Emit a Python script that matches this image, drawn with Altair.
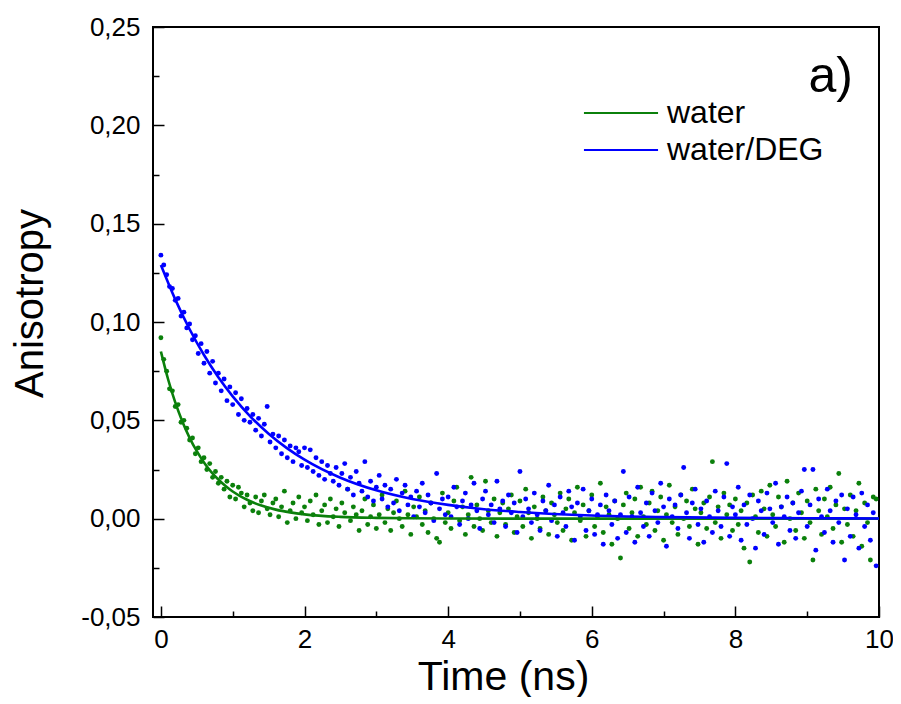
import altair as alt
import pandas as pd

# ---------------- data ----------------
series_names = ["water", "water/DEG"]
series_colors = ["#0b800b", "#0000FF"]
panel_label = ["a)"]

time_step_ns = 0.04  # sampling interval of the measured points

water = [0.092, 0.081, 0.075, 0.066, 0.065, 0.057, 0.058, 0.049, 0.050, 0.046,
         0.040, 0.041, 0.033, 0.036, 0.029, 0.031, 0.025, 0.028, 0.021, 0.024,
         0.018, 0.021, 0.015, 0.019, 0.011, 0.017, 0.010, 0.016, 0.013, 0.006,
         0.012, 0.008, 0.004, 0.011, 0.003, 0.009, 0.012, 0.005, 0.002, 0.008,
         0.010, 0.001, 0.006, 0.014, -0.002, 0.004, 0.008, 0.000, 0.011, 0.003,
         0.006, -0.001, 0.009, 0.002, 0.012, -0.003, 0.004, 0.007, -0.002, 0.010,
         0.001, 0.005, -0.004, 0.008, 0.003, 0.015, -0.001, 0.006, 0.002, -0.006,
         0.004, 0.010, -0.003, 0.001, 0.007, -0.005, 0.002, 0.012, -0.002, 0.005,
         -0.006, 0.003, 0.009, 0.000, -0.004, 0.014, 0.002, -0.008, 0.006, 0.001,
         0.011, -0.003, 0.004, -0.007, 0.008, 0.000, -0.010, -0.012, 0.013, -0.002,
         0.003, -0.005, 0.009, 0.016, -0.001, 0.006, -0.008, 0.002, 0.021, -0.004,
         0.007, 0.000, -0.006, 0.019, 0.004, -0.002, 0.010, -0.009, 0.003, 0.008,
         -0.003, 0.005, 0.012, -0.007, 0.001, 0.009, -0.004, 0.015, 0.003, -0.010,
         0.006, 0.000, -0.005, 0.011, 0.004, -0.008, 0.008, 0.002, -0.002, 0.013,
         -0.006, 0.005, 0.010, -0.011, 0.003, 0.016, -0.001, 0.007, -0.009, 0.004,
         0.012, -0.004, 0.001, 0.018, -0.007, 0.006, 0.002, -0.013, 0.009, 0.000,
         -0.020, 0.007, 0.013, -0.005, 0.003, 0.010, -0.009, 0.016, 0.001, -0.003,
         0.008, 0.014, -0.006, 0.004, 0.011, -0.011, 0.002, 0.017, -0.002, 0.006,
         -0.008, 0.012, 0.000, 0.009, -0.004, 0.015, 0.005, -0.013, 0.003, 0.008,
         -0.005, 0.011, 0.029, -0.002, 0.006, -0.010, 0.013, 0.002, 0.007, -0.006,
         0.010, -0.003, 0.004, -0.015, 0.008, -0.022, 0.012, 0.001, -0.007, 0.014,
         0.005, -0.009, 0.017, 0.002, -0.004, 0.011, 0.006, -0.012, 0.019, 0.000,
         0.008, -0.006, 0.013, 0.003, -0.010, 0.009, -0.002, -0.021, 0.015, 0.004,
         -0.008, 0.010, 0.001, 0.016, -0.005, 0.007, 0.023, -0.012, 0.005, -0.003,
         0.012, -0.009, 0.004, 0.018, -0.014, 0.008, -0.002, -0.021, 0.011, 0.010]

water_deg = [0.134, 0.129, 0.124, 0.118, 0.117, 0.111, 0.112, 0.103, 0.105, 0.097,
             0.099, 0.091, 0.093, 0.084, 0.089, 0.079, 0.085, 0.074, 0.080, 0.069,
             0.074, 0.065, 0.071, 0.060, 0.067, 0.058, 0.064, 0.053, 0.061, 0.050,
             0.056, 0.049, 0.053, 0.045, 0.051, 0.042, 0.048, 0.057, 0.039, 0.043,
             0.036, 0.042, 0.033, 0.040, 0.031, 0.037, 0.029, 0.036, 0.034, 0.027,
             0.036, 0.026, 0.035, 0.024, 0.031, 0.022, 0.029, 0.020, 0.027, 0.023,
             0.019, 0.026, 0.017, 0.023, 0.028, 0.015, 0.021, 0.012, 0.024, 0.018,
             0.014, 0.029, 0.011, 0.019, 0.009, 0.016, 0.022, 0.010, 0.017, 0.006,
             0.015, 0.008, 0.020, 0.004, 0.013, 0.017, 0.007, 0.011, 0.001, 0.014,
             0.006, 0.018, 0.003, 0.012, 0.008, -0.001, 0.023, 0.005, 0.010, 0.002,
             0.011, 0.001, 0.016, 0.006, -0.003, 0.009, 0.013, 0.000, 0.007, 0.018,
             0.004, -0.005, 0.010, 0.014, 0.002, 0.007, -0.002, 0.019, 0.005, 0.009,
             -0.004, 0.012, 0.003, 0.008, -0.007, 0.024, 0.001, 0.010, 0.005, -0.002,
             0.013, 0.002, -0.006, 0.009, 0.004, 0.017, -0.001, 0.007, -0.009, 0.011,
             0.003, -0.004, 0.014, 0.006, -0.011, 0.008, 0.001, 0.015, -0.006, 0.004,
             0.010, -0.008, 0.002, 0.007, -0.013, 0.012, 0.004, -0.003, 0.009, -0.010,
             0.002, 0.024, -0.007, 0.011, 0.001, -0.012, 0.016, 0.003, -0.004, 0.008,
             -0.009, 0.013, 0.004, -0.002, 0.018, 0.006, -0.014, 0.010, 0.001, 0.007,
             -0.005, 0.012, 0.026, 0.003, -0.010, 0.008, 0.015, -0.003, 0.005, -0.012,
             0.009, 0.001, -0.007, 0.014, 0.004, -0.004, 0.011, 0.028, -0.009, 0.006,
             0.002, 0.016, -0.011, 0.007, -0.003, 0.012, 0.000, -0.015, 0.009, 0.004,
             -0.008, 0.013, 0.005, -0.002, 0.018, -0.013, 0.006, 0.001, 0.011, -0.006,
             0.008, -0.010, 0.003, 0.014, 0.025, -0.004, 0.007, 0.025, -0.016, 0.010,
             0.001, -0.007, 0.015, 0.004, -0.012, 0.009, -0.002, 0.012, -0.021, 0.005,
             -0.009, 0.011, 0.002, -0.015, 0.013, -0.004, 0.007, -0.011, 0.003, -0.024]

time_ns = [round(i * time_step_ns, 2) for i in range(len(water))]

fit_time_water = [0, 0.1, 0.2, 0.3, 0.4, 0.5, 0.6, 0.7, 0.8, 0.9, 1.0, 1.2, 1.4,
                  1.6, 1.8, 2.0, 2.5, 3.0, 3.5, 4.0, 5.0, 6.0, 7.0, 8.0, 9.0, 10.0]
fit_water = [0.085, 0.0709, 0.0591, 0.0493, 0.0411, 0.0343, 0.0286, 0.0238, 0.0199,
             0.0166, 0.0138, 0.0096, 0.0067, 0.0046, 0.0032, 0.0022, 0.0009, 0.0004,
             0.0002, 0.0001, 0.0, 0.0, 0.0, 0.0, 0.0, 0.0]

fit_time_deg = [0, 0.2, 0.4, 0.6, 0.8, 1.0, 1.25, 1.5, 1.75, 2.0, 2.5, 3.0, 3.5,
                4.0, 4.5, 5.0, 6.0, 7.0, 8.0, 9.0, 10.0]
fit_deg = [0.129, 0.1115, 0.0963, 0.0832, 0.0719, 0.0622, 0.0518, 0.0432, 0.0360,
           0.0300, 0.0208, 0.0144, 0.0100, 0.0070, 0.0048, 0.0034, 0.0016, 0.0008,
           0.0004, 0.0002, 0.0001]

x_major = [0, 2, 4, 6, 8, 10]
x_minor = [1, 3, 5, 7, 9]
y_major = [-0.05, 0.0, 0.05, 0.10, 0.15, 0.20, 0.25]
y_minor = [-0.025, 0.025, 0.075, 0.125, 0.175, 0.225]

# ---------------- tables ----------------
df_water = pd.DataFrame({"time": time_ns, "value": water})
df_deg = pd.DataFrame({"time": time_ns, "value": water_deg})
df_fit = pd.concat([
    pd.DataFrame({"time": fit_time_water, "value": fit_water, "series": series_names[0]}),
    pd.DataFrame({"time": fit_time_deg, "value": fit_deg, "series": series_names[1]}),
])

FONT = "Liberation Sans"
x_scale = alt.Scale(domain=[-0.11, 10], nice=False, zero=False)
y_scale = alt.Scale(domain=[-0.05, 0.25], nice=False, zero=False)

label_expr_y = "replace(replace(format(datum.value, '.2f'), '.', ','), '\u2212', '-')"

x_main = alt.Axis(orient="bottom", values=x_major, format="d", title="Time (ns)",
                  ticks=False, tickSize=0, domain=False, grid=False,
                  labelFont=FONT, labelFontSize=26, labelColor="black", labelPadding=9,
                  labelFlush=False, labelOverlap=False,
                  titleFont=FONT, titleFontSize=41, titleFontWeight="normal",
                  titleColor="black", titlePadding=5, titleX=350, titleAlign="center")
y_main = alt.Axis(orient="left", values=y_major, labelExpr=label_expr_y, title="Anisotropy",
                  ticks=False, tickSize=0, domain=False, grid=False,
                  labelFont=FONT, labelFontSize=26, labelColor="black", labelPadding=13,
                  labelFlush=False, labelOverlap=False,
                  titleFont=FONT, titleFontSize=40, titleFontWeight="normal",
                  titleColor="black", titlePadding=30, titleY=276, titleAlign="center")

def tick_axis(orient, values, size):
    return alt.Axis(orient=orient, values=values, labels=False, title=None, domain=False,
                    grid=False, ticks=True, tickSize=size, offset=-size,
                    tickColor="black", tickWidth=1.5)

pts_water = alt.Chart(df_water).mark_circle(size=24, opacity=1, color=series_colors[0], clip=True).encode(
    x=alt.X("time:Q", scale=x_scale, axis=x_main),
    y=alt.Y("value:Q", scale=y_scale, axis=y_main),
)
pts_deg = alt.Chart(df_deg).mark_circle(size=24, opacity=1, color=series_colors[1], clip=True).encode(
    x=alt.X("time:Q", scale=x_scale, axis=tick_axis("bottom", x_major, 11)),
    y=alt.Y("value:Q", scale=y_scale, axis=tick_axis("left", y_major, 11)),
)
# legend symbol: a long horizontal stroke drawn inside a 39 px entry
fit_lines = alt.Chart(df_fit).mark_line(strokeWidth=2.6, interpolate="monotone", clip=True).encode(
    x=alt.X("time:Q", scale=x_scale, axis=tick_axis("bottom", x_minor, 6)),
    y=alt.Y("value:Q", scale=y_scale, axis=tick_axis("left", y_minor, 6)),
    color=alt.Color("series:N",
                    scale=alt.Scale(domain=series_names, range=series_colors),
                    legend=alt.Legend(orient="none", legendX=447, legendY=65, title=None,
                                      symbolType="M-1.9,0H1.9", symbolSize=1521,
                                      symbolStrokeWidth=2.2, symbolFillColor="transparent",
                                      labelFont=FONT, labelFontSize=32, labelColor="black",
                                      labelOffset=25, rowPadding=0)),
    detail="series:N",
)
label = alt.Chart(pd.DataFrame({"label": panel_label})).mark_text(
    font=FONT, fontSize=50, align="right", baseline="alphabetic", color="black"
).encode(text="label:N", x=alt.value(700), y=alt.value(65))

chart = alt.layer(pts_water, pts_deg, fit_lines, label).resolve_axis(
    x="independent", y="independent"
).properties(
    width=726, height=590,
    padding={"left": 145, "top": 19, "right": 14, "bottom": 80},
    autosize=alt.AutoSizeParams(type="none"),
).configure_view(stroke="black", strokeWidth=2)

chart.save("out.html", embed_options={"renderer": "svg", "actions": False})
